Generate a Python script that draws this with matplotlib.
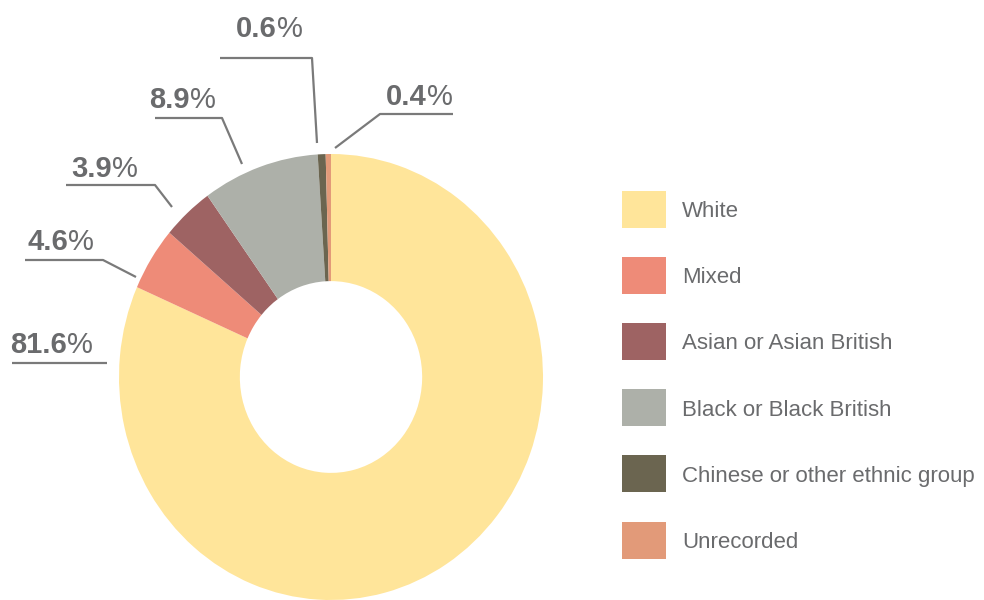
import matplotlib
matplotlib.use("Agg")
import matplotlib.pyplot as plt
from matplotlib.patches import Rectangle

# ---- data ----
categories = ["White", "Mixed", "Asian or Asian British", "Black or Black British",
              "Chinese or other ethnic group", "Unrecorded"]
values = [81.6, 4.6, 3.9, 8.9, 0.6, 0.4]
colors = ["#FFE59A", "#EE8B78", "#9E6363", "#ADB0A9", "#6B6550", "#E29A79"]
label_numbers = ["81.6", "4.6", "3.9", "8.9", "0.6", "0.4"]

# ---- layout for labels (pixel coords, y down) ----
# (split x between number and %, baseline y, leader line points)
label_layout = [
    (67, 353, [(12, 363), (107, 363)]),
    (68, 250, [(25, 260), (103, 260), (136, 277)]),
    (112, 177, [(66, 185), (155, 185), (172, 207)]),
    (190, 108, [(155, 118), (222, 118), (242, 164)]),
    (277, 37, [(220, 58), (312, 58), (317, 143)]),
    (427, 105, [(453, 114), (380, 114), (335, 148)]),
]

W, H = 984, 600
fig = plt.figure(figsize=(W / 100, H / 100), dpi=100)
fig.patch.set_facecolor("white")

# pie axes (slightly stretched vertically as in the reference)
cx, cy, rx, ry = 331, 377, 212, 223
axp = fig.add_axes([(cx - rx) / W, (H - cy - ry) / H, 2 * rx / W, 2 * ry / H])
wedges, _ = axp.pie(values, colors=colors, startangle=90, counterclock=False,
                    radius=1.0, wedgeprops=dict(width=0.57, linewidth=0))
axp.set_aspect("auto")
axp.set_xlim(-1, 1)
axp.set_ylim(-1, 1)
axp.axis("off")
for w in wedges:
    w.set_clip_on(False)

# overlay axes in pixel coordinates
ax = fig.add_axes([0, 0, 1, 1])
ax.set_xlim(0, W)
ax.set_ylim(H, 0)
ax.axis("off")
ax.patch.set_alpha(0)

txt_color = "#6A6B6D"
line_color = "#7A7A7A"
font = "Liberation Sans"
for num, (sx, by, pts) in zip(label_numbers, label_layout):
    xs = [p[0] for p in pts]
    ys = [p[1] for p in pts]
    ax.plot(xs, ys, color=line_color, lw=1.6, solid_capstyle="butt")
    ax.text(sx, by, num, ha="right", va="baseline", fontsize=21, fontweight="bold",
            color=txt_color, family=font)
    ax.text(sx, by, "%", ha="left", va="baseline", fontsize=21, fontweight="normal",
            color=txt_color, family=font)

# legend (drawn manually)
leg_x, leg_y0, leg_dy = 622, 209, 66.2
sq_w, sq_h = 44, 37
for i, (cat, col) in enumerate(zip(categories, colors)):
    yc = leg_y0 + i * leg_dy
    ax.add_patch(Rectangle((leg_x, yc - sq_h / 2), sq_w, sq_h, facecolor=col,
                           edgecolor="none"))
    ax.text(leg_x + sq_w + 16, yc + 2.5, cat, ha="left", va="center", fontsize=16,
            color=txt_color, family=font)

fig.savefig("out.png", dpi=100, facecolor="white")
